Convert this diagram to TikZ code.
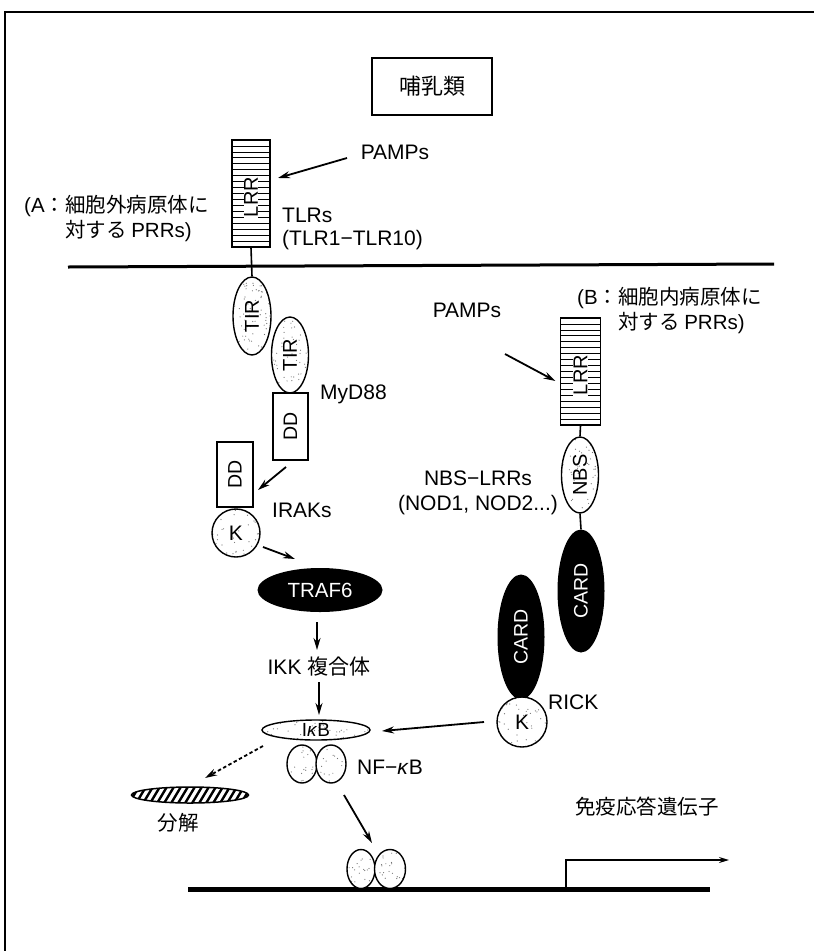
\documentclass[tikz,border=0pt]{standalone}
\usepackage{fontspec}
\setmainfont{Liberation Sans}
\newfontfamily\jp{Noto Sans CJK JP}
\usetikzlibrary{arrows.meta,calc,shapes.geometric}
\begin{document}
\begin{tikzpicture}[x=1pt,y=-1pt,
  txt/.style={inner sep=0pt, font=\fontsize{21}{25}\selectfont},
  jtxt/.style={inner sep=0pt, font=\jp\fontsize{20.5}{25}\selectfont},
  arr/.style={line width=1.8pt, -{Stealth[length=12pt,width=7pt]}},
  stemline/.style={line width=1.6pt},
  stip/.style={fill=white, path picture={\foreach \k in {1,...,330}{\fill[black!55] ([xshift={(rnd-0.5)*130},yshift={(rnd-0.5)*130}]path picture bounding box.center) circle (0.6pt);}}},
  lrrbox/.style={draw, line width=1.3pt, minimum width=38pt, minimum height=107pt, inner sep=0pt,
    path picture={\foreach \k in {1,...,17}{\draw[line width=0.8pt] ([yshift={-\k*5.95}]path picture bounding box.north west) -- ([yshift={-\k*5.95}]path picture bounding box.north east);}}},
  lrrlabel/.style={rotate=90, fill=white, inner sep=0.6pt, font=\fontsize{20}{24}\selectfont},
  ovalv/.style={ellipse, draw, line width=1.4pt, rotate=90, inner sep=0pt, stip, font=\fontsize{20}{24}\selectfont},
  ddbox/.style={rectangle, draw, line width=1.4pt, rotate=90, inner sep=0pt, fill=white, font=\fontsize{19.5}{24}\selectfont},
  kcirc/.style={circle, draw, line width=1.4pt, inner sep=0pt, stip, font=\fontsize{21}{25}\selectfont},
  card/.style={ellipse, fill=black, rotate=90, inner sep=0pt, text=white, font=\fontsize{19.5}{24}\selectfont},
  nfshape/.style={ellipse, draw, line width=1.4pt, inner sep=0pt, minimum width=30pt, minimum height=38pt, stip},
  hatch/.style={ellipse, draw, line width=1.5pt, minimum width=117pt, minimum height=16pt, inner sep=0pt, fill=white,
    path picture={\foreach \k in {-9,...,9}{\draw[line width=2.4pt] ([xshift={\k*7}]path picture bounding box.center) ++(-6pt,-10pt) -- ++(12pt,20pt);}}},
  titlebox/.style={draw, line width=1.5pt, minimum width=120pt, minimum height=57pt, inner sep=0pt, font=\jp\fontsize{22}{26}\selectfont}
]
\useasboundingbox (0,0) rectangle (814,951);
% frame
\draw[line width=2.2pt] (5,951) -- (5,12) -- (814,12);
% membrane
\coordinate (memL) at (68,267);
\coordinate (memR) at (774,264);
\draw[line width=3pt] (memL) -- (memR);

% title
\node[titlebox] (title) at (432,86.5) {哺乳類};

% TLR part
\node[txt] (pamps1) at (395,152) {PAMPs};
\node[lrrbox] (lrr1) at (251,193.5) {};
\node[lrrlabel] (lrr1t) at (251,197) {LRR};
\draw[arr] ($(pamps1.center)+(-48,6)$) -- ($(lrr1.center)+(27,-15.5)$);
\node[jtxt, align=left, anchor=west] (labA) at (24,218) {{\rmfamily(A}：細胞外病原体に\\\phantom{{\rmfamily(A}：}対する {\rmfamily PRRs)}};
\node[txt, align=left, anchor=west, font=\fontsize{21}{23}\selectfont] (tlrs) at (282,229) {TLRs\\(TLR1−TLR10)};

\node[ovalv, minimum width=78pt, minimum height=38pt] (tir1) at (252,316) {TIR};
\draw[stemline] (lrr1.south) -- (tir1.east);
\node[ovalv, minimum width=76pt, minimum height=37pt] (tir2) at (290,355) {TIR};
\node[txt, anchor=west] (myd88) at (320,394) {MyD88};
\node[ddbox, minimum width=67pt, minimum height=35pt] (dd1) at (290.5,426.5) {DD};
\node[ddbox, minimum width=65pt, minimum height=36pt] (dd2) at (235,474.5) {DD};
\draw[arr] ($(dd1.center)+(-4.5,40.5)$) -- ($(dd2.center)+(23,15.5)$);
\node[txt, anchor=west] (iraks) at (272,510) {IRAKs};
\node[kcirc, minimum size=48pt] (k1) at (236,533) {K};
\node[ellipse, fill=black, minimum width=125pt, minimum height=44pt, inner sep=0pt, text=white, font=\fontsize{20.5}{24}\selectfont] (traf6) at (320,590) {TRAF6};
\draw[arr] ($(k1.center)+(27,14)$) -- ($(traf6.center)+(-25,-31)$);
\node[txt] (ikk) at (319,667) {IKK {\jp 複合体}};
\draw[arr] ($(traf6.center)+(-3,32)$) -- ($(ikk.center)+(-2,-17)$);
\node[ellipse, draw, line width=1.4pt, inner sep=0pt, minimum width=108pt, minimum height=20pt, stip, font=\fontsize{19}{22}\selectfont] (ikb) at (316,730) {I\textit{κ}B};
\draw[arr] ($(ikk.center)+(0,15)$) -- ($(ikb.center)+(3,-15)$);
\node[nfshape] (nf1) at (302,764) {};
\node[nfshape] (nf2) at (331,764) {};
\node[txt, anchor=west] (nflab) at (357,767) {NF−\textit{κ}B};
\node[hatch] (degr) at (190,795) {};
\draw[arr, dash pattern=on 3.5pt off 2.5pt] ($(ikb.center)+(-53,16)$) -- ($(degr.center)+(15,-17)$);
\node[jtxt] (bunkai) at (178,823) {分解};

% DNA
\coordinate (dnaL) at (188,889);
\coordinate (dnaR) at (710,889);
\draw[line width=5pt] (dnaL) -- (dnaR);
\node[nfshape, minimum width=28pt, minimum height=39pt] (dnanf1) at (361,869) {};
\node[nfshape, minimum width=31pt, minimum height=39pt] (dnanf2) at (390,869) {};
\draw[arr] ($(nf2.center)+(13,31)$) -- ($(dnanf1.center)+(11,-26)$);
\coordinate (tss) at (566,887);
\coordinate (tend) at (729,860);
\draw[line width=1.5pt, -{Stealth[length=10pt,width=6pt]}] (tss) |- (tend);
\node[jtxt] (gene) at (647,807) {免疫応答遺伝子};

% NOD part
\node[txt] (pamps2) at (467,310) {PAMPs};
\node[jtxt, align=left, anchor=west] (labB) at (577,310) {{\rmfamily(B}：細胞内病原体に\\\phantom{{\rmfamily(B}：}対する {\rmfamily PRRs)}};
\node[lrrbox, minimum width=40pt] (lrr2) at (580.5,371.5) {};
\node[lrrlabel] (lrr2t) at (580.5,375) {LRR};
\draw[arr] ($(pamps2.center)+(38,44)$) -- ($(lrr2.center)+(-25,9.5)$);
\node[ovalv, minimum width=76pt, minimum height=37pt] (nbs) at (580,475) {NBS};
\draw[stemline] (lrr2.south) -- (nbs.east);
\node[txt, align=center] (nbslab) at (478,493) {NBS−LRRs\\(NOD1, NOD2...)};
\node[card, minimum width=123pt, minimum height=47pt] (card1) at (581,591) {CARD};
\draw[stemline] (nbs.west) -- (card1.east);
\node[card, minimum width=125pt, minimum height=47pt] (card2) at (521,637) {CARD};
\node[kcirc, minimum size=50pt] (k2) at (522,722) {K};
\node[txt, anchor=west] (rick) at (548,702) {RICK};
\draw[arr] ($(k2.center)+(-38,0)$) -- ($(ikb.center)+(66,1)$);
\end{tikzpicture}
\end{document}
